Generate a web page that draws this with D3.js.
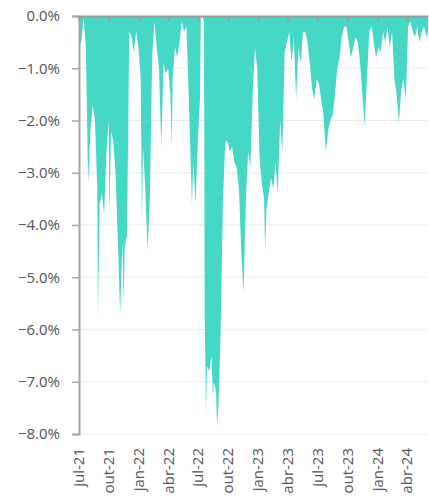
<!DOCTYPE html>
<html>
<head>
<meta charset="utf-8">
<script src="https://cdn.jsdelivr.net/npm/d3@7"></script>
<style>
  body { margin: 0; background: #fff; }
  text { font-family: "Open Sans", sans-serif; }
</style>
</head>
<body>
<div id="chart"></div>
<script>
// drawdown series (%)
var dates = [
  "2021-07-01","2021-07-04","2021-07-08","2021-07-15","2021-07-22","2021-07-29","2021-08-05","2021-08-12","2021-08-19","2021-08-26",
  "2021-08-28","2021-09-02","2021-09-09","2021-09-16","2021-09-23","2021-09-30","2021-10-02","2021-10-07","2021-10-14","2021-10-21",
  "2021-10-28","2021-11-04","2021-11-11","2021-11-15","2021-11-18","2021-11-25","2021-12-02","2021-12-09","2021-12-16","2021-12-23",
  "2021-12-30","2022-01-06","2022-01-10","2022-01-13","2022-01-20","2022-01-27","2022-02-03","2022-02-10","2022-02-17","2022-02-24",
  "2022-03-03","2022-03-10","2022-03-17","2022-03-24","2022-03-31","2022-04-07","2022-04-11","2022-04-14","2022-04-21","2022-04-28",
  "2022-05-05","2022-05-12","2022-05-19","2022-05-26","2022-06-02","2022-06-09","2022-06-12","2022-06-16","2022-06-23","2022-06-30",
  "2022-07-07","2022-07-09","2022-07-14","2022-07-19","2022-07-21","2022-07-25","2022-07-28","2022-08-04","2022-08-11","2022-08-15",
  "2022-08-18","2022-08-25","2022-08-28","2022-09-01","2022-09-08","2022-09-15","2022-09-22","2022-09-29","2022-10-06","2022-10-13",
  "2022-10-20","2022-10-27","2022-11-03","2022-11-10","2022-11-17","2022-11-24","2022-12-01","2022-12-08","2022-12-15","2022-12-22",
  "2022-12-29","2023-01-05","2023-01-12","2023-01-19","2023-01-22","2023-01-26","2023-02-02","2023-02-09","2023-02-16","2023-02-23",
  "2023-03-02","2023-03-09","2023-03-16","2023-03-23","2023-03-30","2023-04-06","2023-04-13","2023-04-20","2023-04-27","2023-05-04",
  "2023-05-11","2023-05-18","2023-05-25","2023-06-01","2023-06-08","2023-06-15","2023-06-22","2023-06-29","2023-07-06","2023-07-13",
  "2023-07-20","2023-07-27","2023-08-03","2023-08-10","2023-08-17","2023-08-24","2023-08-31","2023-09-07","2023-09-14","2023-09-21",
  "2023-09-28","2023-10-05","2023-10-12","2023-10-19","2023-10-26","2023-11-02","2023-11-09","2023-11-16","2023-11-23","2023-11-30",
  "2023-12-07","2023-12-14","2023-12-21","2023-12-28","2024-01-04","2024-01-11","2024-01-18","2024-01-25","2024-02-01","2024-02-08",
  "2024-02-15","2024-02-22","2024-02-29","2024-03-07","2024-03-14","2024-03-21","2024-03-28","2024-04-04","2024-04-11","2024-04-18",
  "2024-04-25","2024-05-02","2024-05-09","2024-05-16","2024-05-23","2024-05-30","2024-06-04"
];
var drawdown = [
  -0.1,-0.55,-0.5,-0.05,-0.6,-3.2,-2.2,-1.7,-2.0,-3.3,
  -5.8,-3.6,-3.4,-3.8,-2.6,-2.0,-3.85,-2.2,-2.4,-3.0,
  -4.3,-5.7,-4.3,-5.5,-4.4,-4.2,-0.3,-0.4,-0.7,-0.3,
  -0.6,-1.2,-4.0,-2.5,-3.3,-4.5,-3.5,-0.8,-0.1,-0.6,
  -1.0,-2.5,-0.9,-1.1,-1.0,-1.5,-2.5,-1.2,-0.6,-0.8,
  -0.5,-0.1,-0.3,-0.2,-1.5,-3.0,-3.6,-2.8,-3.6,-2.4,
  -1.5,0,0,-0.1,-5.6,-7.6,-6.7,-6.8,-6.5,-7.3,
  -7.0,-7.2,-7.86,-7.5,-6.0,-3.5,-2.4,-2.4,-2.6,-2.5,
  -2.8,-2.9,-3.3,-4.5,-5.3,-3.5,-2.6,-2.9,-1.5,-0.6,
  -1.0,-2.7,-3.2,-3.5,-4.5,-3.7,-3.4,-3.1,-3.3,-2.8,
  -3.4,-2.0,-2.6,-0.7,-0.5,-0.3,-0.9,-0.4,-1.6,-0.6,
  -0.9,-0.3,-0.3,-0.5,-0.9,-1.4,-1.6,-1.2,-1.3,-1.6,
  -1.9,-2.6,-2.2,-2.0,-1.9,-1.5,-1.0,-0.8,-0.4,-0.2,
  -0.2,-0.5,-0.8,-0.6,-0.4,-0.5,-0.9,-1.5,-2.1,-1.2,
  -0.3,-0.2,-0.5,-0.8,-0.6,-0.7,-0.3,-0.5,-0.2,-0.6,
  -0.3,-1.2,-1.5,-2.05,-1.4,-1.2,-1.6,-0.2,-0.1,-0.3,
  -0.4,-0.2,-0.5,-0.3,-0.2,-0.4,-0.3
];
var monthsPt = ["jan","fev","mar","abr","mai","jun","jul","ago","set","out","nov","dez"];
var yTicks = [0, -0.01, -0.02, -0.03, -0.04, -0.05, -0.06, -0.07, -0.08];

var width = 429, height = 498;
var margin = {top: 16, right: 1, bottom: 64, left: 79};

var parse = d3.utcParse("%Y-%m-%d");
var data = dates.map(function(d, i) { return {date: parse(d), value: drawdown[i] / 100}; });

var locale = d3.timeFormatLocale({
  dateTime: "%d/%m/%Y %H:%M:%S", date: "%d/%m/%Y", time: "%H:%M:%S",
  periods: ["AM", "PM"],
  days: ["domingo","segunda","terça","quarta","quinta","sexta","sábado"],
  shortDays: ["dom","seg","ter","qua","qui","sex","sáb"],
  months: ["janeiro","fevereiro","março","abril","maio","junho","julho","agosto","setembro","outubro","novembro","dezembro"],
  shortMonths: monthsPt
});
var fmtDate = locale.utcFormat("%b-%y");

var svg = d3.select("#chart").append("svg")
    .attr("width", width)
    .attr("height", height);

var x = d3.scaleUtc()
    .domain(d3.extent(data, function(d) { return d.date; }))
    .range([margin.left, width - margin.right]);

var y = d3.scaleLinear()
    .domain([-0.08, 0])
    .range([height - margin.bottom, margin.top]);

// gridlines
svg.append("g")
  .selectAll("line")
  .data(yTicks.slice(1))
  .enter().append("line")
    .attr("x1", margin.left).attr("x2", width - margin.right)
    .attr("y1", function(d) { return y(d); })
    .attr("y2", function(d) { return y(d); })
    .attr("stroke", "#ebebeb")
    .attr("stroke-width", 1);

// area
svg.append("path")
  .datum(data)
  .attr("fill", "#44d8c5")
  .attr("d", d3.area()
    .x(function(d) { return x(d.date); })
    .y0(y(0))
    .y1(function(d) { return y(d.value); }));

// y axis
var yAxis = svg.append("g")
    .attr("transform", "translate(" + margin.left + ",0)")
    .call(d3.axisLeft(y).tickValues(yTicks).tickFormat(d3.format(".1%")).tickSize(7).tickPadding(12));
yAxis.select(".domain").attr("stroke", "#a6a6a6").attr("stroke-width", 2);
yAxis.selectAll(".tick line").attr("stroke", "#a6a6a6").attr("stroke-width", 1.5);
yAxis.selectAll(".tick text").attr("fill", "#555").style("font-size", "15px")
    .style("font-family", "'Open Sans', sans-serif");

// x axis line along the zero, ticks pointing down into plot
var xTickVals = d3.utcMonth.every(3).range(new Date(Date.UTC(2021, 6, 1)), x.domain()[1]);
var xAxis = svg.append("g")
    .attr("transform", "translate(0," + y(0) + ")")
    .call(d3.axisBottom(x).tickValues(xTickVals).tickSize(5).tickSizeOuter(0).tickFormat(""));
xAxis.select(".domain").attr("stroke", "#9a9a9a").attr("stroke-width", 2);
xAxis.selectAll(".tick line").attr("stroke", "#9a9a9a").attr("stroke-width", 2);

// month labels below the plot
svg.append("g")
  .selectAll("text")
  .data(xTickVals)
  .enter().append("text")
    .attr("transform", function(d) { return "translate(" + x(d) + "," + (y(-0.08) + 14) + ") rotate(-90)"; })
    .attr("text-anchor", "end")
    .attr("dy", "0.35em")
    .attr("fill", "#555")
    .style("font-size", "15px")
    .text(function(d) { return fmtDate(d); });
</script>
</body>
</html>
